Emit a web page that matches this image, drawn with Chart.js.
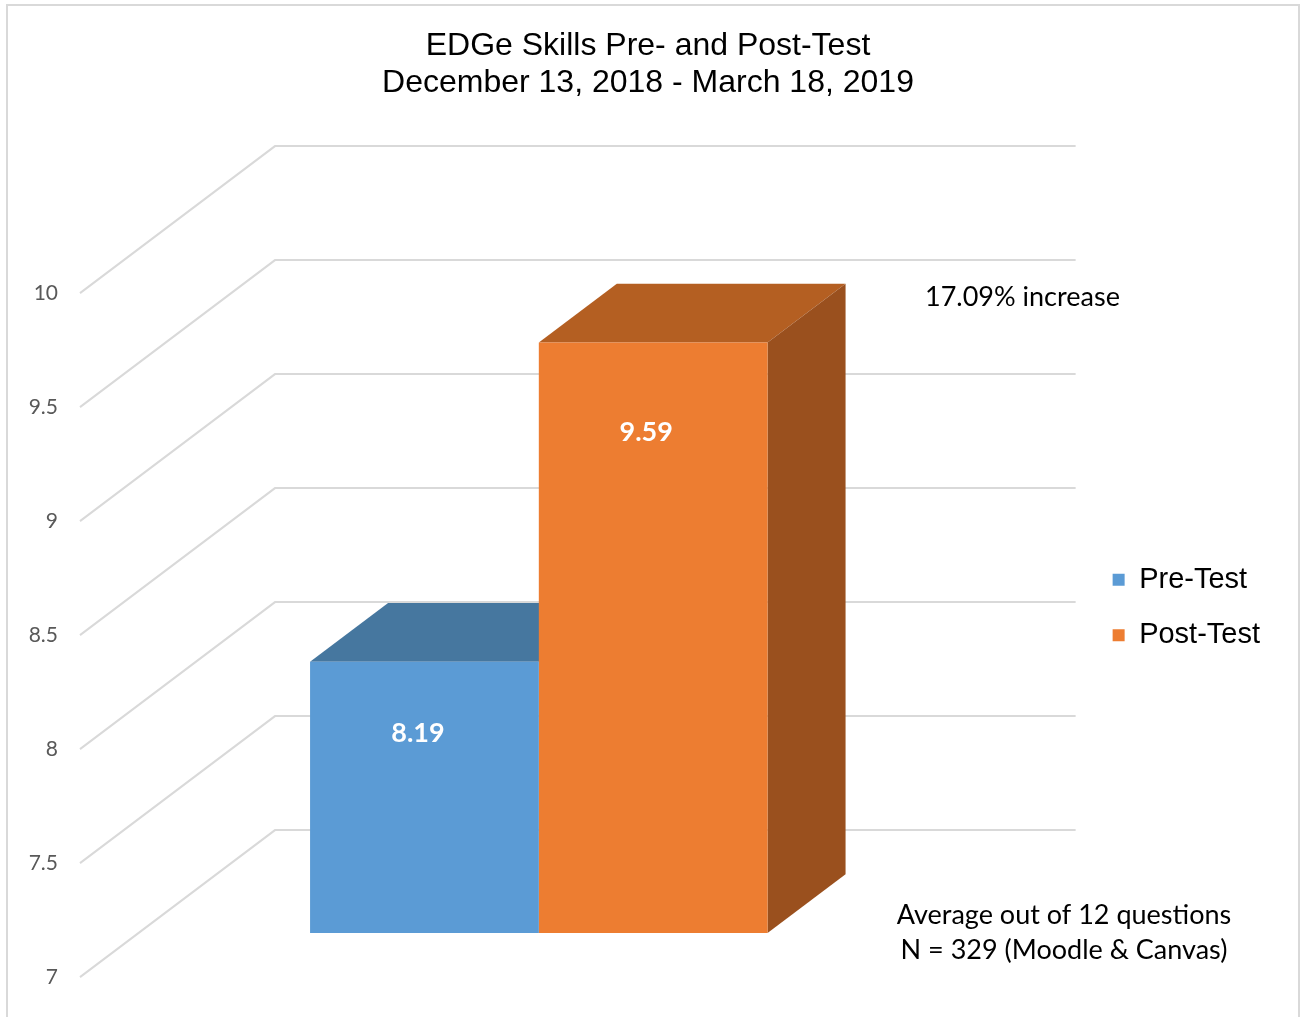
<!DOCTYPE html>
<html>
<head>
<meta charset="utf-8">
<script src="https://cdn.jsdelivr.net/npm/chart.js@4.4.1/dist/chart.umd.min.js"></script>
<style>
  html, body { margin: 0; padding: 0; background: #fff; }
  #wrap { position: relative; width: 1302px; height: 1017px; overflow: hidden; }
  #frame { position: absolute; left: 6px; top: 4px; width: 1294px; height: 1040px; border: 2px solid #d9d9d9; box-sizing: border-box; }
  #statChart { position: absolute; left: 0; top: 0; }
</style>
</head>
<body>
<div id="wrap">
  <div id="frame"></div>
  <canvas id="statChart" width="1302" height="1017"></canvas>
</div>
<script>

// data
var categories = [''];
var seriesNames = ['Pre-Test', 'Post-Test'];
var preTest = [8.19];
var postTest = [9.59];
var yMin = 7, yMax = 10, yStep = 0.5;
var titleLines = ['EDGe Skills Pre- and Post-Test', 'December 13, 2018 - March 18, 2019'];
var noteLines = ['Average out of 12 questions', 'N = 329 (Moodle & Canvas)'];

// excel style 3D box: vector from front plane to back wall,
// bars sit between 30% and 70% of that depth
var depth = { dx: 195, dy: -147 };
var barFront = 0.3, barBack = 0.7;
var lineColor = '#d9d9d9';

var box3d = {
  id: 'box3d',

  beforeDatasetsDraw: function(chart) {
    var ctx = chart.ctx;
    var area = chart.chartArea;
    var y = chart.scales.y;
    var fx = -depth.dx * barFront, fy = -depth.dy * barFront;            // bar plane -> front
    var bx = depth.dx * (1 - barFront), by = depth.dy * (1 - barFront);  // bar plane -> back wall

    ctx.save();
    ctx.strokeStyle = lineColor;
    ctx.lineWidth = 2;
    y.ticks.forEach(function(t) {
      var py = y.getPixelForValue(t.value);
      ctx.beginPath();
      ctx.moveTo(area.left + fx, py + fy);
      ctx.lineTo(area.left + bx, py + by);
      ctx.lineTo(area.right + bx, py + by);
      ctx.stroke();
    });

    // top + side faces first, so the front of the next bar covers them
    var ox = depth.dx * (barBack - barFront), oy = depth.dy * (barBack - barFront);
    chart.data.datasets.forEach(function(ds, i) {
      chart.getDatasetMeta(i).data.forEach(function(bar) {
        var l = bar.x - bar.width / 2, r = bar.x + bar.width / 2;
        var base = Math.min(bar.base, area.bottom);
        ctx.fillStyle = ds.topColor;
        ctx.beginPath();
        ctx.moveTo(l, bar.y);
        ctx.lineTo(l + ox, bar.y + oy);
        ctx.lineTo(r + ox, bar.y + oy);
        ctx.lineTo(r, bar.y);
        ctx.closePath();
        ctx.fill();
        ctx.fillStyle = ds.sideColor;
        ctx.beginPath();
        ctx.moveTo(r, bar.y);
        ctx.lineTo(r + ox, bar.y + oy);
        ctx.lineTo(r + ox, base + oy);
        ctx.lineTo(r, base);
        ctx.closePath();
        ctx.fill();
      });
    });
    ctx.restore();
  },

  afterDatasetsDraw: function(chart) {
    var ctx = chart.ctx;
    ctx.save();
    ctx.font = 'bold 27px Lato';
    ctx.fillStyle = '#ffffff';
    ctx.textAlign = 'center';
    ctx.textBaseline = 'middle';
    chart.data.datasets.forEach(function(ds, i) {
      chart.getDatasetMeta(i).data.forEach(function(bar, j) {
        ctx.fillText(ds.data[j].toFixed(2), bar.x + ds.labelAt[0], bar.y + ds.labelAt[1]);
      });
    });
    ctx.restore();
  },

  afterDraw: function(chart) {
    var ctx = chart.ctx;
    var rise = (postTest[0] - preTest[0]) / preTest[0] * 100;
    ctx.save();
    ctx.fillStyle = '#000000';
    ctx.font = '27px Lato';
    ctx.textBaseline = 'middle';
    ctx.textAlign = 'left';
    ctx.fillText(rise.toFixed(2) + '% increase', 925, 297);
    ctx.textAlign = 'center';
    ctx.fillText(noteLines[0], 1064, 915);
    ctx.fillText(noteLines[1], 1064, 950);
    ctx.restore();
  }
};

var data = {
  labels: categories,
  datasets: [
    {
      label: seriesNames[0],
      data: preTest,
      base: yMin,
      backgroundColor: '#5b9bd5',
      topColor: '#46779f',
      sideColor: '#3d6a94',
      labelAt: [-6.5, 72]
    },
    {
      label: seriesNames[1],
      data: postTest,
      base: yMin,
      backgroundColor: '#ed7d31',
      topColor: '#b45f22',
      sideColor: '#9a501e',
      labelAt: [-7, 90]
    }
  ]
};

var options = {
  responsive: false,
  animation: false,
  events: [],
  layout: { padding: { left: 26, right: 32, top: 0, bottom: 84 } },
  datasets: {
    bar: { categoryPercentage: 2 / 3.5, barPercentage: 1, borderWidth: 0 }
  },
  scales: {
    x: { display: false },
    y: {
      min: yMin,
      max: yMax,
      grid: { display: false, drawTicks: false },
      border: { display: false },
      ticks: {
        stepSize: yStep,
        labelOffset: -depth.dy * barFront,
        padding: 80.5,
        color: '#595959',
        font: { family: 'Lato', size: 21 },
        callback: function(value) { return value; }
      },
      afterFit: function(axis) {
        axis.width = 112.5;
        axis.paddingTop = 0;
        axis.paddingBottom = 0;
      }
    },
    // empty strip between the plot and the legend
    gap: {
      type: 'linear',
      position: 'right',
      display: true,
      grid: { display: false, drawTicks: false },
      border: { display: false },
      ticks: { display: false },
      afterFit: function(axis) {
        axis.width = 147;
        axis.paddingTop = 0;
        axis.paddingBottom = 0;
      }
    }
  },
  plugins: {
    title: {
      display: true,
      text: titleLines,
      color: '#000000',
      font: { family: 'Liberation Sans', size: 32, weight: 'normal', lineHeight: 1.15625 },
      padding: { top: 28, bottom: 147 }
    },
    legend: {
      position: 'right',
      fullSize: false,
      title: { display: true, text: '', padding: 0, font: { size: 33, lineHeight: 1 } },
      labels: {
        boxWidth: 12,
        boxHeight: 12,
        padding: 26.5,
        color: '#000000',
        font: { family: 'Liberation Sans', size: 29 }
      }
    },
    tooltip: { enabled: false }
  }
};

var ctx = document.getElementById('statChart');
var myBarChart = new Chart(ctx, {
  type: 'bar',
  data: data,
  options: options,
  plugins: [box3d]
});

</script>
</body>
</html>
